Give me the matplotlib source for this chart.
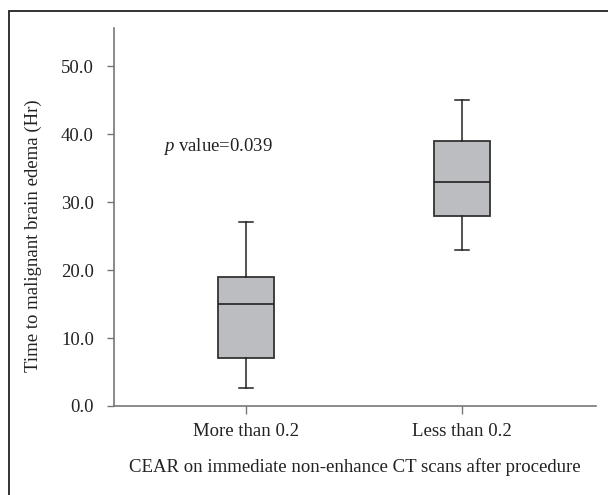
import matplotlib
matplotlib.use("Agg")
import matplotlib.pyplot as plt
from matplotlib.patches import Rectangle

plt.rcParams['font.family'] = ['Liberation Serif', 'DejaVu Serif']
plt.rcParams['mathtext.fontset'] = 'custom'
plt.rcParams['mathtext.rm'] = 'Liberation Serif'
plt.rcParams['mathtext.it'] = 'Liberation Serif:italic'

categories = ["More than 0.2", "Less than 0.2"]
whisker_low = [2.6, 23.0]
q1 = [7.0, 28.0]
median = [15.0, 33.0]
q3 = [19.0, 39.0]
whisker_high = [27.0, 45.0]
yticks = [0, 10, 20, 30, 40, 50]
p_text = r"$p$ value=0.039"

fs = 13.5
fig = plt.figure(figsize=(6.08, 4.95), dpi=100)
ax = fig.add_axes([114/608, 1-406/495, (596-114)/608, (406-28)/495])

stats = []
for i, c in enumerate(categories):
    stats.append(dict(label=c, whislo=whisker_low[i], q1=q1[i], med=median[i],
                      q3=q3[i], whishi=whisker_high[i], fliers=[]))

ax.bxp(stats, positions=[1, 2], widths=0.26, patch_artist=True, showfliers=False,
       boxprops=dict(facecolor='#bcbdc1', edgecolor='#333333', linewidth=1.3),
       medianprops=dict(color='#222222', linewidth=1.2),
       whiskerprops=dict(color='#222222', linewidth=1.1),
       capprops=dict(color='#222222', linewidth=1.1),
       capwidths=0.065)

ax.set_xlim(0.389, 2.62)
ax.set_ylim(0, 55.6)
ax.set_yticks(yticks)
ax.set_yticklabels([f"{v:.1f}" for v in yticks])
ax.set_xticks([1, 2])
ax.set_xticklabels(categories)

for s in ['top', 'right']:
    ax.spines[s].set_visible(False)
for s in ['left', 'bottom']:
    ax.spines[s].set_color('#777777')
    ax.spines[s].set_linewidth(1.2)
ax.tick_params(axis='both', colors='#777777', labelcolor='#222222',
               labelsize=fs, width=1.0)
ax.tick_params(axis='x', length=6, pad=6)
ax.tick_params(axis='y', length=5, pad=9.5)

ax.set_xlabel("CEAR on immediate non-enhance CT scans after procedure",
              fontsize=fs, color='#222222', labelpad=13)
ax.set_ylabel("Time to malignant brain edema (Hr)", fontsize=fs, color='#222222')
ax.yaxis.set_label_coords(-0.150, 25/55.6)

ax.text(0.616, 37.5, p_text, fontsize=fs, color='#222222', va='baseline', ha='left')

# outer frame (top and left edges visible)
frame = Rectangle((9/608, -0.05), 2.0, 1 - 11/495 + 0.05, transform=fig.transFigure,
                  fill=False, edgecolor='#222222', linewidth=1.3)
fig.patches.append(frame)

fig.savefig("out.png", dpi=100)
